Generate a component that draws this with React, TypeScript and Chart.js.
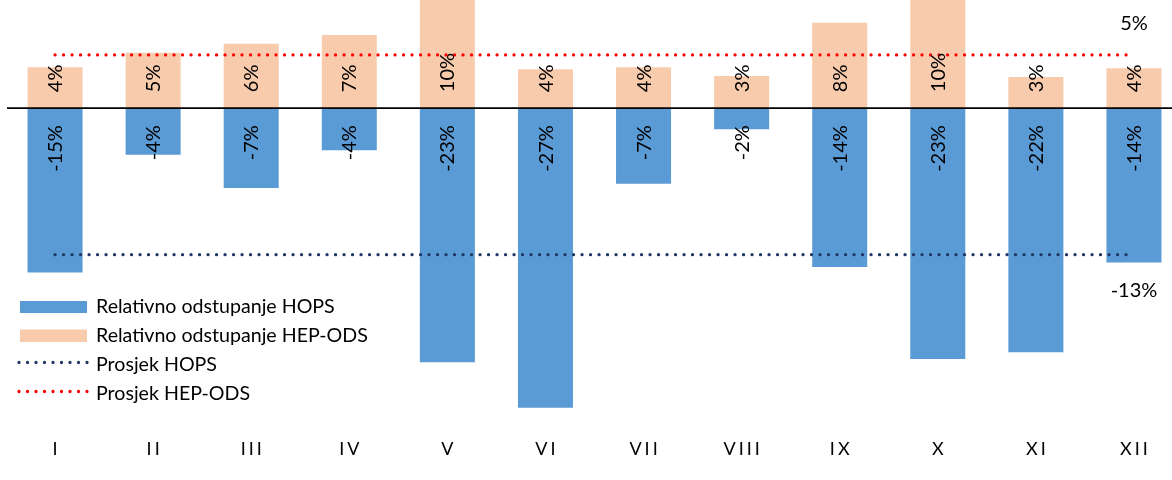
import React, { useEffect, useRef } from "react";
import { Chart, registerables } from "chart.js";

Chart.register(...registerables);

const categories = ["I", "II", "III", "IV", "V", "VI", "VII", "VIII", "IX", "X", "XI", "XII"];
const hopsValues = [-14.8, -4.2, -7.2, -3.8, -22.9, -27.0, -6.8, -1.9, -14.3, -22.6, -22.0, -13.9];
const hepOdsValues = [3.7, 5.0, 5.8, 6.6, 10.2, 3.52, 3.7, 2.9, 7.7, 10.3, 2.8, 3.6];
const hopsAverage = [-13.2, -13.2, -13.2, -13.2, -13.2, -13.2, -13.2, -13.2, -13.2, -13.2, -13.2, -13.2];
const hepOdsAverage = [4.8, 4.8, 4.8, 4.8, 4.8, 4.8, 4.8, 4.8, 4.8, 4.8, 4.8, 4.8];
const seriesNames = [
  "Relativno odstupanje HOPS",
  "Relativno odstupanje HEP-ODS",
  "Prosjek HOPS",
  "Prosjek HEP-ODS",
];

const BLUE = "#5B9BD5";
const ORANGE = "#F8CBAD";
const NAVY = "#1F3864";
const RED = "#FF0000";
const FONT = "Lato, 'Open Sans', sans-serif";

const pct = (v: number) => `${Math.round(v)}%`;

const overlayPlugin = {
  id: "overlay",
  afterDatasetsDraw(chart: any) {
    const { ctx, chartArea } = chart;
    const x = chart.scales.x;
    const y = chart.scales.y;
    const zeroY = y.getPixelForValue(0);
    ctx.save();

    // zero line
    ctx.strokeStyle = "#000";
    ctx.lineWidth = 1.8;
    ctx.beginPath();
    ctx.moveTo(chartArea.left + 1, zeroY);
    ctx.lineTo(chartArea.right, zeroY);
    ctx.stroke();

    // bar labels (rotated)
    ctx.fillStyle = "#000";
    ctx.font = `20px ${FONT}`;
    ctx.textBaseline = "alphabetic";
    const capH = 14.2;
    categories.forEach((_, i) => {
      const cx = x.getPixelForValue(i);
      ctx.save();
      ctx.translate(cx + capH / 2, zeroY - 16);
      ctx.rotate(-Math.PI / 2);
      ctx.textAlign = "left";
      ctx.fillText(pct(hepOdsValues[i]), 0, 0);
      ctx.restore();
      ctx.save();
      ctx.translate(cx + capH / 2, zeroY + 17);
      ctx.rotate(-Math.PI / 2);
      ctx.textAlign = "right";
      ctx.fillText(pct(hopsValues[i]), 0, 0);
      ctx.restore();
    });

    // average end labels
    const last = categories.length - 1;
    const lx = x.getPixelForValue(last);
    ctx.textAlign = "center";
    ctx.fillText(pct(hepOdsAverage[last]), lx, y.getPixelForValue(hepOdsAverage[last]) - 25);
    ctx.fillText(pct(hopsAverage[last]), lx, y.getPixelForValue(hopsAverage[last]) + 42);

    // legend
    ctx.font = `19.6px ${FONT}`;
    ctx.textAlign = "left";
    const baselines = [313, 342, 371, 399.5];
    ctx.fillStyle = BLUE;
    ctx.fillRect(20, 301, 67, 12);
    ctx.fillStyle = ORANGE;
    ctx.fillRect(20, 329.5, 67, 12.5);
    const dotted = (yy: number, color: string) => {
      ctx.strokeStyle = color;
      ctx.lineWidth = 3.3;
      ctx.lineCap = "round";
      ctx.setLineDash([0, 8.5]);
      ctx.beginPath();
      ctx.moveTo(19, yy);
      ctx.lineTo(87.5, yy);
      ctx.stroke();
      ctx.setLineDash([]);
    };
    dotted(362.5, NAVY);
    dotted(391.5, RED);
    ctx.fillStyle = "#000";
    seriesNames.forEach((n, i) => ctx.fillText(n, 96, baselines[i]));

    // x labels
    ctx.font = `18px ${FONT}`;
    ctx.textAlign = "center";
    (ctx as any).letterSpacing = "3px";
    categories.forEach((c, i) => {
      ctx.fillText(c, x.getPixelForValue(i) + 1.5, 455);
    });
    (ctx as any).letterSpacing = "0px";

    ctx.restore();
  },
};

export default function App() {
  const ref = useRef<HTMLCanvasElement | null>(null);
  useEffect(() => {
    let chart: Chart | null = null;
    let cancelled = false;
    const make = () => {
      if (cancelled || !ref.current) return;
      chart = new Chart(ref.current, {
        type: "bar",
        data: {
          labels: categories,
          datasets: [
            {
              type: "line",
              label: seriesNames[2],
              data: hopsAverage,
              borderColor: NAVY,
              borderWidth: 3.3,
              borderDash: [0, 8.5],
              borderCapStyle: "round",
              pointRadius: 0,
              fill: false,
              order: 1,
            } as any,
            {
              type: "line",
              label: seriesNames[3],
              data: hepOdsAverage,
              borderColor: RED,
              borderWidth: 3.3,
              borderDash: [0, 8.5],
              borderCapStyle: "round",
              pointRadius: 0,
              fill: false,
              order: 1,
            } as any,
            {
              type: "bar",
              label: seriesNames[0],
              data: hopsValues,
              backgroundColor: BLUE,
              grouped: false,
              barPercentage: 1,
              categoryPercentage: 0.561,
              order: 2,
            } as any,
            {
              type: "bar",
              label: seriesNames[1],
              data: hepOdsValues,
              backgroundColor: ORANGE,
              grouped: false,
              barPercentage: 1,
              categoryPercentage: 0.561,
              order: 2,
            } as any,
          ],
        },
        options: {
          responsive: false,
          animation: false,
          layout: { padding: { left: 6, right: 0, top: 0, bottom: 50 } },
          scales: {
            x: { display: false },
            y: { display: false, min: -29, max: 9.75 },
          },
          plugins: {
            legend: { display: false },
            tooltip: { enabled: false },
          },
        },
        plugins: [overlayPlugin],
      });
    };
    const fonts: any = (document as any).fonts;
    if (fonts && fonts.load) {
      Promise.all([fonts.load(`20px Lato`), fonts.load(`18px Lato`)])
        .catch(() => null)
        .then(make);
    } else {
      make();
    }
    return () => {
      cancelled = true;
      if (chart) chart.destroy();
    };
  }, []);

  return (
    <div
      style={{
        position: "fixed",
        left: 0,
        top: 0,
        width: 1172,
        height: 480,
        overflow: "hidden",
        background: "#fff",
      }}
    >
      <canvas ref={ref} width={1183} height={480} style={{ display: "block" }} />
    </div>
  );
}
